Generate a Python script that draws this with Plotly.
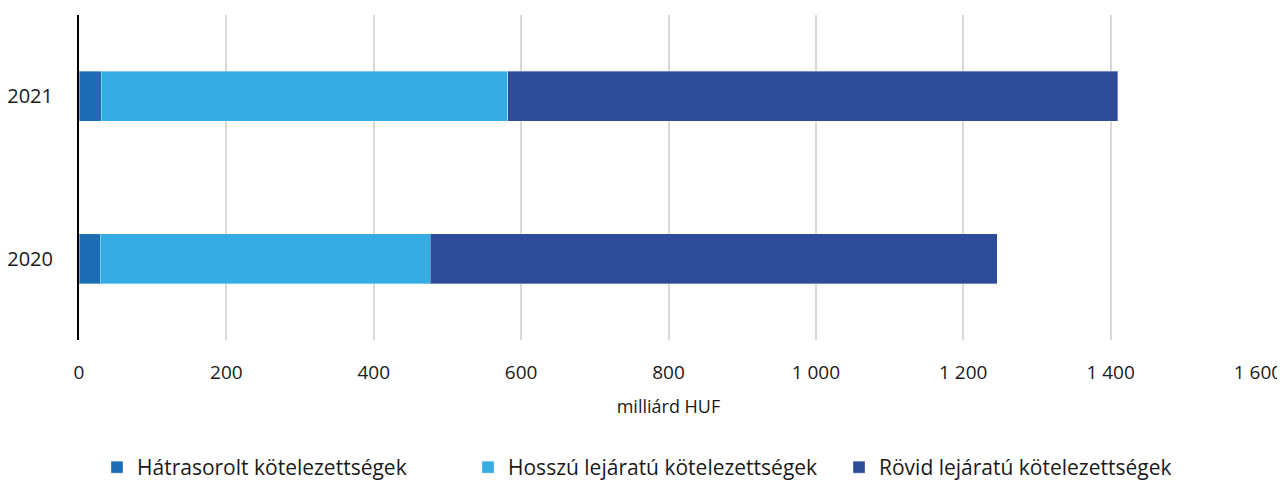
import plotly.graph_objects as go

# Data
years = ["2020", "2021"]
hatrasorolt = [29, 31]
hosszu = [448, 551]
rovid = [769, 828]

series_names = [
    "Hátrasorolt kötelezettségek",
    "Hosszú lejáratú kötelezettségek",
    "Rövid lejáratú kötelezettségek",
]
series_colors = ["#1C6DB4", "#35ACE2", "#2D4B98"]

x_ticks = [0, 200, 400, 600, 800, 1000, 1200, 1400, 1600]
x_tick_labels = ["0", "200", "400", "600", "800", "1 000", "1 200", "1 400", "1 600"]

FONT = "Open Sans"

fig = go.Figure()
for name, vals, col in zip(series_names, [hatrasorolt, hosszu, rovid], series_colors):
    fig.add_trace(go.Bar(
        y=years,
        x=vals,
        name=name,
        orientation="h",
        marker=dict(color=col, line=dict(color="rgba(255,255,255,0.35)", width=1)),
        width=0.31,
    ))

# page body adds an 8px offset, so the figure is sized to fit the window
fig.update_layout(
    barmode="stack",
    width=1277,
    height=480,
    margin=dict(l=71, r=27, t=7, b=148, autoexpand=False),
    plot_bgcolor="white",
    paper_bgcolor="white",
    font=dict(family=FONT, size=20, color="#1a1a1a"),
    showlegend=True,
    legend=dict(
        orientation="h",
        xref="container",
        x=0.0697,
        xanchor="left",
        yref="container",
        y=0.0,
        yanchor="bottom",
        font=dict(size=21),
        traceorder="normal",
        itemwidth=30,
        entrywidth=326,
        entrywidthmode="pixels",
    ),
)

fig.update_xaxes(
    range=[0, 1600],
    tickvals=x_ticks,
    ticktext=x_tick_labels,
    showgrid=True,
    gridcolor="#d9d9d9",
    gridwidth=2,
    zeroline=False,
    showline=False,
    ticks="",
    automargin=False,
    ticklabeloverflow="allow",
    ticklabelstandoff=19,
    tickfont=dict(size=19),
    title=dict(text="milliárd HUF", font=dict(size=18), standoff=16),
)

fig.update_yaxes(
    type="category",
    categoryorder="array",
    categoryarray=years,
    range=[-0.5, 1.5],
    showgrid=False,
    zeroline=False,
    showline=True,
    linecolor="black",
    linewidth=2,
    ticks="",
    automargin=False,
    ticklabelstandoff=20,
    tickfont=dict(size=20),
)

fig.write_html("out.html")
